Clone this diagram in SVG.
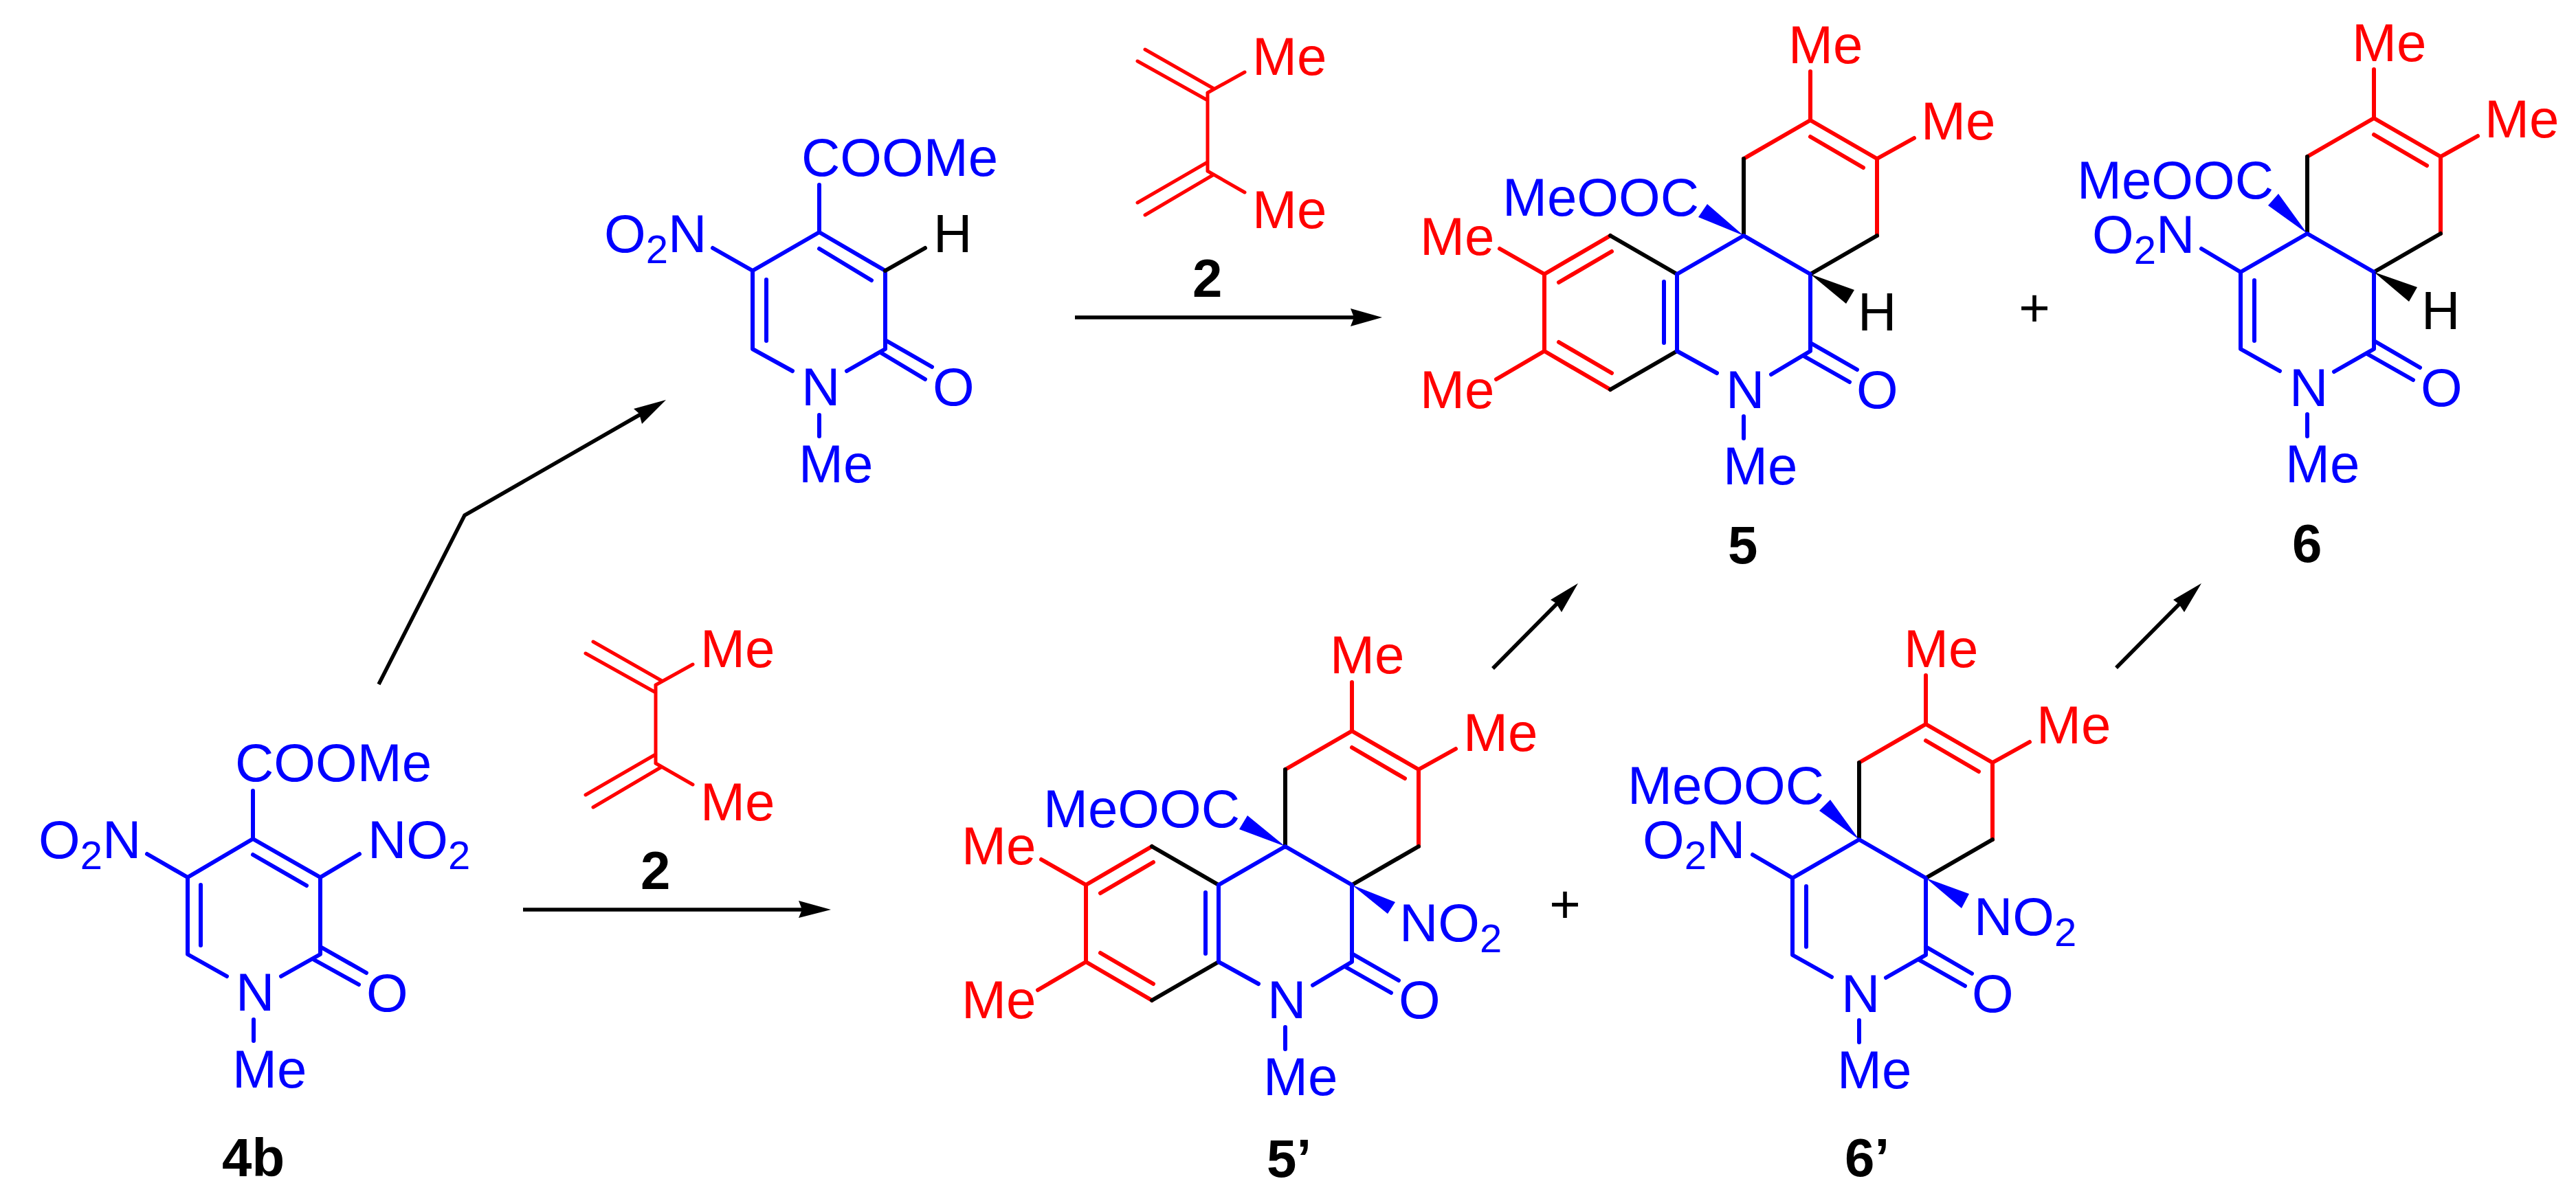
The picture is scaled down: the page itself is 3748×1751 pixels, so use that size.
<svg xmlns="http://www.w3.org/2000/svg" width="3748" height="1751" viewBox="0 0 3748 1751">
<style>
text{font-family:"Liberation Sans",Arial,sans-serif;font-size:78px}
.b{fill:#0000ff}.r{fill:#ff0000}.k{fill:#000000}
.l{font-weight:bold}
.s{font-size:58px}
path.bl,path.rd,path.bk{fill:none;stroke-width:6;stroke-linecap:round;stroke-linejoin:round}
path.di{stroke-width:5}
.bl{stroke:#0000ff}.rd{stroke:#ff0000}.bk{stroke:#000000}
.ar{fill:none;stroke:#000000;stroke-width:5.5;stroke-linejoin:miter}
</style>
<rect width="3748" height="1751" fill="#ffffff"/>
<g id="connectors">
<path class="ar" d="M551,996 L676,750 L932,603"/><polygon points="969,582 922,595 930,602 934,617"/>
<path class="ar" d="M761,1324 H1170"/><polygon points="1209,1324 1162,1311 1167,1324 1162,1336"/>
<path class="ar" d="M1564,462 H1972"/><polygon points="2011,462 1965,449 1970,462 1965,475"/>
<path class="ar" d="M2172,973 L2266,878"/><polygon points="2296,849 2256,873 2264,878 2272,891"/>
<path class="ar" d="M3079,972 L3172,878"/><polygon points="3203,849 3162,873 3170,879 3178,891"/>
</g>
<g id="node-4b">
<path class="bl" d="M368,1151 V1221 L466,1277 V1389 L409,1421 M368,1244 L446,1289 M466,1277 L523,1243 M368,1221 L273,1277 V1389 L330,1421 M273,1277 L214,1243 M292,1288 V1376 M466,1378 L533,1416 M457,1397 L522,1433 M369,1484 V1515"/>
<text class="b" x="342" y="1137">COOMe</text>
<text class="b" x="56" y="1249">O<tspan class="s" dy="16">2</tspan><tspan dy="-16">N</tspan></text>
<text class="b" x="535" y="1249">NO<tspan class="s" dy="16">2</tspan></text>
<text class="b" x="343" y="1471">N</text>
<text class="b" x="533" y="1472">O</text>
<text class="b" x="338" y="1583">Me</text>
<text class="k l" x="323" y="1712">4b</text>
</g>
<g id="node-pyridone">
<path class="bl" d="M1192,269 V338 L1288,394 V508 L1232,540 M1192,362 L1268,408 M1192,338 L1095,394 V508 L1153,540 M1095,394 L1037,361 M1115,407 V496 M1288,495 L1356,534 M1281,513 L1346,552 M1192,604 V635"/>
<path class="bk" d="M1288,394 L1346,361"/>
<text class="b" x="1166" y="256">COOMe</text>
<text class="b" x="879" y="367">O<tspan class="s" dy="16">2</tspan><tspan dy="-16">N</tspan></text>
<text class="k" x="1358" y="367">H</text>
<text class="b" x="1166" y="590">N</text>
<text class="b" x="1357" y="590">O</text>
<text class="b" x="1162" y="702">Me</text>
</g>
<g id="node-2-top" transform="translate(803,-862)">
<path class="rd di" d="M954,997 V1111 M963,991 L863,934 M954,1008 L852,951 M954,997 L1008,967 M954,1098 L852,1157 M963,1116 L863,1175 M954,1111 L1008,1142"/>
<text class="r" x="1019" y="971">Me</text>
<text class="r" x="1019" y="1194">Me</text>
<text class="k l" x="932" y="1294">2</text>
</g>
<g id="node-2-bottom">
<path class="rd di" d="M954,997 V1111 M963,991 L863,934 M954,1008 L852,951 M954,997 L1008,967 M954,1098 L852,1157 M963,1116 L863,1175 M954,1111 L1008,1142"/>
<text class="r" x="1019" y="971">Me</text>
<text class="r" x="1019" y="1194">Me</text>
<text class="k l" x="932" y="1294">2</text>
</g>
<g id="node-5" transform="translate(2537,343)">
<path class="rd" d="M0,-112 L97,-168 L194,-112 V0 M97,-144 L174,-99 M97,-168 V-239 M194,-112 L248,-142 M-194,0 L-290,56 V168 L-194,224 M-192,23 L-269,68 M-269,155 L-192,200 M-290,56 L-355,19 M-290,168 L-360,209"/>
<path class="bk" d="M0,0 V-112 M194,0 L97,56 M-194,0 L-97,56 M-97,168 L-194,224"/>
<path class="bl" d="M-97,56 L0,0 L97,56 V168 L40,202 M-97,56 V168 L-39,200 M-116,67 V156 M97,156 L165,195 M87,175 L154,213 M0,263 V295"/>
<polygon class="b" points="0,0 -53,-46 -66,-27"/>
<polygon class="k" points="97,56 161,79 149,99"/>
<text class="r" x="65" y="-251">Me</text>
<text class="r" x="258" y="-140">Me</text>
<text class="b" x="-351" y="-29">MeOOC</text>
<text class="r" x="-471" y="28">Me</text>
<text class="r" x="-471" y="251">Me</text>
<text class="b" x="-26" y="251">N</text>
<text class="b" x="164" y="251">O</text>
<text class="b" x="-30" y="362">Me</text>
<text class="k" x="166" y="138">H</text>
<text class="k l" x="-23" y="477">5</text>
</g>
<g id="node-6" transform="translate(3357,340)">
<path class="rd" d="M0,-112 L97,-168 L194,-112 V0 M97,-144 L174,-99 M97,-168 V-239 M194,-112 L248,-142"/>
<path class="bk" d="M0,0 V-112 M194,0 L97,56"/>
<path class="bl" d="M-97,56 L0,0 L97,56 V168 L39,201 M-97,56 V168 L-40,200 M-77,68 V156 M-97,56 L-154,22 M97,156 L164,195 M87,175 L154,213 M0,263 V295"/>
<polygon class="b" points="0,0 -42,-58 -57,-41"/>
<polygon class="k" points="97,56 160,78 148,99"/>
<text class="r" x="65" y="-251">Me</text>
<text class="r" x="258" y="-140">Me</text>
<text class="b" x="-335" y="-51">MeOOC</text>
<text class="b" x="-313" y="28">O<tspan class="s" dy="16">2</tspan><tspan dy="-16">N</tspan></text>
<text class="b" x="-26" y="251">N</text>
<text class="b" x="165" y="251">O</text>
<text class="b" x="-32" y="362">Me</text>
<text class="k" x="166" y="139">H</text>
<text class="k l" x="-22" y="478">6</text>
</g>
<g id="node-5prime" transform="translate(1870,1232)">
<path class="rd" d="M0,-112 L97,-168 L194,-112 V0 M97,-144 L174,-99 M97,-168 V-239 M194,-112 L248,-142 M-194,0 L-290,56 V168 L-194,224 M-192,23 L-269,68 M-269,155 L-192,200 M-290,56 L-355,19 M-290,168 L-360,209"/>
<path class="bk" d="M0,0 V-112 M194,0 L97,56 M-194,0 L-97,56 M-97,168 L-194,224"/>
<path class="bl" d="M-97,56 L0,0 L97,56 V168 L40,202 M-97,56 V168 L-39,200 M-116,67 V156 M97,156 L165,195 M87,175 L154,213 M0,263 V295"/>
<polygon class="b" points="0,0 -55,-45 -67,-25"/>
<polygon class="b" points="97,56 160,81 149,98"/>
<text class="r" x="65" y="-252">Me</text>
<text class="r" x="259" y="-139">Me</text>
<text class="b" x="-352" y="-28">MeOOC</text>
<text class="r" x="-471" y="26">Me</text>
<text class="r" x="-471" y="250">Me</text>
<text class="b" x="-26" y="250">N</text>
<text class="b" x="165" y="250">O</text>
<text class="b" x="-32" y="362">Me</text>
<text class="b" x="166" y="138">NO<tspan class="s" dy="16">2</tspan></text>
<text class="k l" x="-27" y="481">5’</text>
</g>
<g id="node-plus-5prime">
<text class="k" x="2277" y="1343" text-anchor="middle">+</text>
</g>
<g id="node-6prime" transform="translate(2705,1222)">
<path class="rd" d="M0,-112 L97,-168 L194,-112 V0 M97,-144 L174,-99 M97,-168 V-239 M194,-112 L248,-142"/>
<path class="bk" d="M0,0 V-112 M194,0 L97,56"/>
<path class="bl" d="M-97,56 L0,0 L97,56 V168 L39,201 M-97,56 V168 L-40,200 M-77,68 V156 M-97,56 L-155,22 M97,156 L164,195 M87,175 L154,213 M0,263 V295"/>
<polygon class="b" points="0,0 -42,-58 -58,-42"/>
<polygon class="b" points="97,56 160,79 149,100"/>
<text class="r" x="65" y="-251">Me</text>
<text class="r" x="258" y="-140">Me</text>
<text class="b" x="-337" y="-52">MeOOC</text>
<text class="b" x="-315" y="27">O<tspan class="s" dy="16">2</tspan><tspan dy="-16">N</tspan></text>
<text class="b" x="-26" y="251">N</text>
<text class="b" x="164" y="251">O</text>
<text class="b" x="-32" y="362">Me</text>
<text class="b" x="167" y="139">NO<tspan class="s" dy="16">2</tspan></text>
<text class="k l" x="-21" y="490">6’</text>
</g>
<g id="node-plus-5">
<text class="k" x="2960" y="475" text-anchor="middle">+</text>
</g>
</svg>
